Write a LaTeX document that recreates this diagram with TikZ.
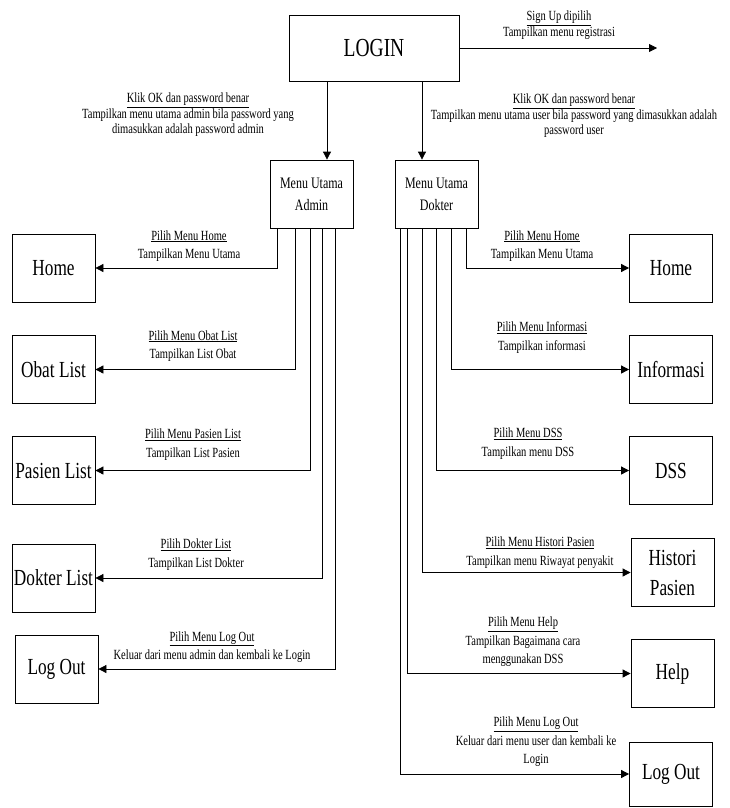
\documentclass[tikz,border=0pt]{standalone}
\usepackage{fontspec}
\setmainfont{Liberation Serif}[FakeStretch=0.75]
\usetikzlibrary{shapes,arrows.meta,positioning}

\tikzset{
	box/.style		= {draw, line width=0.8pt, minimum width=83pt, minimum height=68pt, align=center, inner sep=1pt, font=\fontsize{23}{30}\selectfont},
	menubox/.style	= {box, font=\fontsize{16}{22}\selectfont},
	lbl/.style		= {align=center, inner sep=0pt, font=\fontsize{14}{18.5}\selectfont},
	toplbl/.style	= {lbl, font=\fontsize{14}{15.5}\selectfont},
	arr/.style		= {-{Triangle[length=8pt,width=8pt]}, line width=0.8pt}
}

\begin{document}
\begin{tikzpicture}[x=1pt, y=-1pt]
\useasboundingbox (0,0) rectangle (729,808);

% login and main menus
\node[box, minimum width=170pt, minimum height=66pt, font=\fontsize{26}{30}\selectfont]	(login)	at (374,48)		{LOGIN};
\node[menubox]	(mAdmin)	at (311.5,194)	{Menu Utama\\Admin};
\node[menubox]	(mDokter)	at (436.5,194)	{Menu Utama\\Dokter};
\coordinate		(signup)	at (657,48);

% admin pages
\node[box]		(aHome)		at (53.5,268)	{Home};
\node[box]		(aObat)		at (53.5,369.5)	{Obat List};
\node[box]		(aPasien)	at (53.5,470.5)	{Pasien List};
\node[box]		(aDokter)	at (53.5,578)	{Dokter List};
\node[box]		(aLogout)	at (56.5,669)	{Log Out};

% dokter pages
\node[box]		(dHome)		at (671,268)	{Home};
\node[box]		(dInfo)		at (671,369.5)	{Informasi};
\node[box]		(dDss)		at (671,470.5)	{DSS};
\node[box]		(dHistori)	at (672.5,572.5)	{Histori\\Pasien};
\node[box]		(dHelp)		at (672.5,673.5)	{Help};
\node[box, minimum height=64pt]	(dLogout)	at (671,774)	{Log Out};

% labels
\node[toplbl]	(lSignup)	at (559,25)	{\underline{Sign Up dipilih}\\Tampilkan menu registrasi};
\node[toplbl]	(lAdmin)	at (188,115)	{\underline{Klik OK dan password benar}\\Tampilkan menu utama admin bila password yang\\dimasukkan adalah password admin};
\node[toplbl]	(lDokter)	at (574,116)	{\underline{Klik OK dan password benar}\\Tampilkan menu utama user bila password yang dimasukkan adalah\\password user};

\node[lbl]	(laHome)	at (189,246)	{\underline{Pilih Menu Home}\\Tampilkan Menu Utama};
\node[lbl]	(laObat)	at (193,346)	{\underline{Pilih Menu Obat List}\\Tampilkan List Obat};
\node[lbl]	(laPasien)	at (193,444.5)	{\underline{Pilih Menu Pasien List}\\Tampilkan List Pasien};
\node[lbl]	(laDokter)	at (196,554.5)	{\underline{Pilih Dokter List}\\Tampilkan List Dokter};
\node[lbl]	(laLogout)	at (212,647)	{\underline{Pilih Menu Log Out}\\Keluar dari menu admin dan kembali ke Login};

\node[lbl]	(ldHome)	at (542,246)	{\underline{Pilih Menu Home}\\Tampilkan Menu Utama};
\node[lbl]	(ldInfo)	at (542,337.5)	{\underline{Pilih Menu Informasi}\\Tampilkan informasi};
\node[lbl]	(ldDss)		at (528,443.5)	{\underline{Pilih Menu DSS}\\Tampilkan menu DSS};
\node[lbl]	(ldHistori)	at (540,552.5)	{\underline{Pilih Menu Histori Pasien}\\Tampilkan menu Riwayat penyakit};
\node[lbl]	(ldHelp)	at (523,642)	{\underline{Pilih Menu Help}\\Tampilkan Bagaimana cara\\menggunakan DSS};
\node[lbl]	(ldLogout)	at (536,742)	{\underline{Pilih Menu Log Out}\\Keluar dari menu user dan kembali ke\\Login};

% login arrows
\draw[arr]	(login.east)	--	(signup);
\draw[arr]	([xshift=-47pt]login.south)	--	([xshift=-47pt]login.south |- mAdmin.north);
\draw[arr]	([xshift=48pt]login.south)	--	([xshift=48pt]login.south |- mDokter.north);

% admin arrows
\draw[arr]	([xshift=8pt]mAdmin.south west)		|-	(aHome);
\draw[arr]	([xshift=26pt]mAdmin.south west)	|-	(aObat);
\draw[arr]	([xshift=41pt]mAdmin.south west)	|-	(aPasien);
\draw[arr]	([xshift=53pt]mAdmin.south west)	|-	(aDokter);
\draw[arr]	([xshift=66pt]mAdmin.south west)	|-	(aLogout);

% dokter arrows
\draw[arr]	([xshift=72pt]mDokter.south west)	|-	(dHome);
\draw[arr]	([xshift=57pt]mDokter.south west)	|-	(dInfo);
\draw[arr]	([xshift=42pt]mDokter.south west)	|-	(dDss);
\draw[arr]	([xshift=28pt]mDokter.south west)	|-	(dHistori);
\draw[arr]	([xshift=13pt]mDokter.south west)	|-	(dHelp);
\draw[arr]	([xshift=6pt]mDokter.south west)	|-	(dLogout);
\end{tikzpicture}
\end{document}
